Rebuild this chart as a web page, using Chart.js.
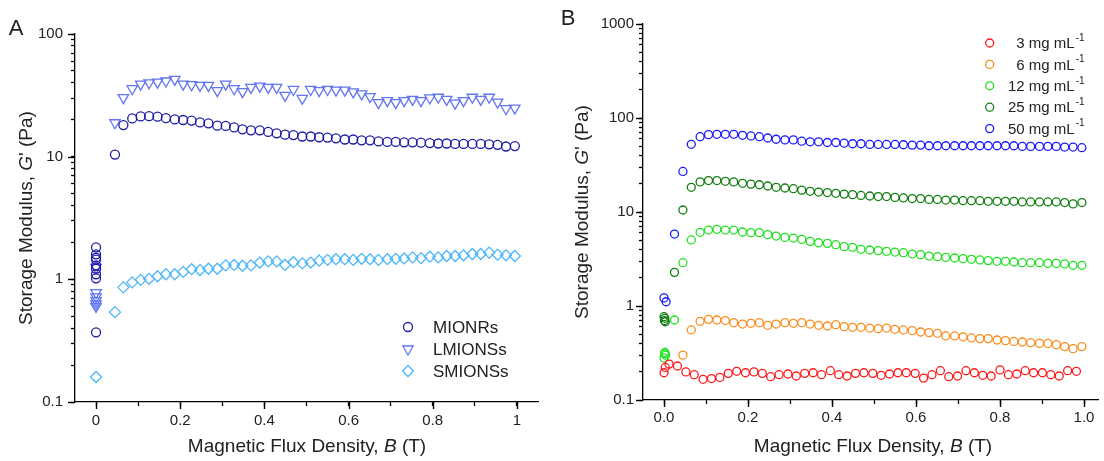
<!DOCTYPE html>
<html>
<head>
<meta charset="utf-8">
<script src="https://cdn.jsdelivr.net/npm/chart.js@4.4.1/dist/chart.umd.min.js"></script>
<style>
  body { margin: 0; background: #fff; font-family: "Liberation Sans", Arial, sans-serif; color: #222; }
  #wrap { position: relative; width: 1104px; height: 461px; overflow: hidden; }
  canvas { position: absolute; top: 0; }
  .title { position: absolute; white-space: nowrap; font-size: 19px; transform: translate(-50%, -50%); }
  .ytitle { transform: translate(-50%, -50%) rotate(-90deg); }
  .letter { position: absolute; font-size: 22px; transform: translate(-50%, -50%); }
</style>
</head>
<body>
<div id="wrap">
  <canvas id="chartA" width="552" height="461" style="left:0"></canvas>
  <canvas id="chartB" width="552" height="461" style="left:552px"></canvas>
  <div class="letter" style="left:16px; top:28px">A</div>
  <div class="letter" style="left:568px; top:18px">B</div>
  <div class="title ytitle" style="left:26px; top:218px">Storage Modulus, <i>G</i>' (Pa)</div>
  <div class="title" style="left:307px; top:446px">Magnetic Flux Density, <i>B</i> (T)</div>
  <div class="title ytitle" style="left:582px; top:212px">Storage Modulus, <i>G</i>' (Pa)</div>
  <div class="title" style="left:873px; top:446px">Magnetic Flux Density, <i>B</i> (T)</div>
</div>
<script>
// field sweep (T), shared by most series
const sweepField = [0.025, 0.045, 0.065, 0.086, 0.106, 0.126, 0.146, 0.166, 0.187, 0.207,
  0.227, 0.247, 0.267, 0.288, 0.308, 0.328, 0.348, 0.368, 0.389, 0.409,
  0.429, 0.449, 0.469, 0.490, 0.510, 0.530, 0.550, 0.570, 0.591, 0.611,
  0.631, 0.651, 0.671, 0.692, 0.712, 0.732, 0.752, 0.772, 0.793, 0.813,
  0.833, 0.853, 0.873, 0.894, 0.914, 0.934, 0.954, 0.974, 0.995];
// the 3 mg/mL run was sampled a bit earlier
const redField = [0.012, 0.032, 0.052, 0.072, 0.093, 0.113, 0.133, 0.153, 0.173, 0.194,
  0.214, 0.234, 0.254, 0.274, 0.295, 0.315, 0.335, 0.355, 0.375, 0.396,
  0.416, 0.436, 0.456, 0.476, 0.497, 0.517, 0.537, 0.557, 0.577, 0.598,
  0.618, 0.638, 0.658, 0.678, 0.699, 0.719, 0.739, 0.759, 0.779, 0.800,
  0.820, 0.840, 0.860, 0.880, 0.901, 0.921, 0.941, 0.961, 0.982];

// ---- panel A ----
const namesA = ['MIONRs', 'LMIONSs', 'SMIONSs'];
const mionrsZero = [1.82, 1.6, 1.5, 1.45, 1.3, 1.22, 1.1, 1.02, 0.37];
const lmionssZero = [1.25, 0.78, 0.72, 0.67, 0.63, 0.60];
const smionssZero = [0.16];
const mionrs = [10.4, 18.1, 20.5, 21.3, 21.4, 21.2, 20.6, 20.1, 19.9, 19.7,
  19.0, 18.7, 17.9, 17.8, 17.3, 16.7, 16.4, 16.4, 15.9, 15.5,
  15.1, 15.0, 14.6, 14.6, 14.4, 14.3, 14.1, 13.8, 13.8, 13.6,
  13.6, 13.3, 13.2, 13.2, 13.1, 13.1, 13.0, 12.9, 12.8, 12.8,
  12.7, 12.7, 12.7, 12.7, 12.6, 12.5, 12.1, 12.2];
const lmionss = [18.9, 30.3, 35.8, 39.0, 40.0, 40.5, 41.4, 42.7, 39.0, 38.6,
  38.1, 38.1, 34.5, 39.0, 35.8, 33.9, 36.7, 37.6, 36.7, 36.7,
  31.6, 35.3, 29.9, 35.3, 34.5, 35.3, 34.9, 34.9, 33.7, 32.5,
  30.9, 27.6, 28.6, 27.6, 28.6, 29.3, 28.6, 30.1, 30.5, 29.3,
  27.3, 28.6, 30.5, 29.3, 30.5, 27.8, 24.6, 24.9];
const smionss = [0.54, 0.86, 0.945, 0.99, 1.01, 1.06, 1.10, 1.10, 1.15, 1.21,
  1.19, 1.22, 1.22, 1.30, 1.31, 1.29, 1.30, 1.37, 1.40, 1.40,
  1.31, 1.38, 1.35, 1.37, 1.42, 1.44, 1.46, 1.46, 1.44, 1.47,
  1.46, 1.44, 1.46, 1.47, 1.48, 1.51, 1.49, 1.53, 1.51, 1.55,
  1.55, 1.57, 1.61, 1.61, 1.65, 1.59, 1.57, 1.55];
const xTicksA = ['0', '0.2', '0.4', '0.6', '0.8', '1'];
const yTicksA = ['0.1', '1', '10', '100'];

// ---- panel B ----
const concB = ['3', '6', '12', '25', '50'];
const c3ZeroX = [0, 0.003], c3Zero = [0.195, 0.222];
const c12ZeroX = [0, 0.001, 0.002, 0.004], c12Zero = [0.28, 0.31, 0.32, 0.30];
const c25ZeroX = [0, 0.001, 0.002, 0.003], c25Zero = [0.77, 0.70, 0.74, 0.68];
const c50ZeroX = [0, 0.005], c50Zero = [1.22, 1.11];
const c3 = [0.241, 0.230, 0.199, 0.186, 0.166, 0.169, 0.174, 0.192, 0.202, 0.195,
  0.199, 0.192, 0.177, 0.186, 0.189, 0.180, 0.192, 0.195, 0.186, 0.205,
  0.186, 0.180, 0.192, 0.195, 0.192, 0.183, 0.189, 0.195, 0.195, 0.192,
  0.171, 0.186, 0.205, 0.177, 0.180, 0.205, 0.195, 0.183, 0.180, 0.209,
  0.186, 0.189, 0.205, 0.195, 0.195, 0.186, 0.180, 0.205, 0.202];
const c6 = [0.30, 0.556, 0.687, 0.721, 0.71, 0.70, 0.665, 0.643, 0.654, 0.665,
  0.623, 0.643, 0.665, 0.654, 0.665, 0.643, 0.623, 0.613, 0.633, 0.603,
  0.593, 0.593, 0.583, 0.574, 0.583, 0.565, 0.556, 0.547, 0.529, 0.521,
  0.512, 0.48, 0.48, 0.47, 0.457, 0.45, 0.45, 0.435, 0.428, 0.42,
  0.414, 0.407, 0.40, 0.40, 0.388, 0.37, 0.352, 0.37];
const c12 = [0.71, 2.89, 5.04, 6.08, 6.43, 6.54, 6.43, 6.43, 6.13, 6.03,
  6.03, 5.74, 5.55, 5.37, 5.28, 5.11, 4.87, 4.71, 4.64, 4.49,
  4.28, 4.21, 4.01, 3.94, 3.88, 3.82, 3.75, 3.69, 3.57, 3.52,
  3.40, 3.35, 3.29, 3.24, 3.19, 3.14, 3.09, 3.04, 2.99, 2.99,
  2.94, 2.89, 2.89, 2.89, 2.84, 2.84, 2.80, 2.71, 2.71];
const c25 = [2.28, 10.5, 18.3, 20.9, 21.6, 21.6, 21.2, 20.9, 20.2, 19.8,
  19.5, 18.9, 18.3, 18.0, 17.7, 17.1, 16.6, 16.3, 16.1, 15.8,
  15.5, 15.3, 15.0, 14.8, 14.6, 14.6, 14.3, 14.1, 13.9, 13.9,
  13.6, 13.6, 13.4, 13.4, 13.2, 13.2, 13.2, 13.0, 13.0, 13.0,
  13.0, 12.8, 12.8, 12.8, 12.8, 12.8, 12.6, 12.2, 12.6];
const c50 = [5.83, 27.0, 52.5, 63.3, 66.5, 67.1, 67.1, 67.1, 65.4, 64.4,
  63.3, 61.3, 59.4, 58.5, 58.5, 56.7, 55.8, 55.8, 54.9, 54.9,
  54.0, 53.2, 53.2, 52.3, 52.3, 52.3, 52.3, 51.9, 51.5, 51.5,
  50.7, 50.7, 50.7, 50.7, 50.7, 50.7, 50.7, 50.7, 50.7, 50.7,
  50.7, 49.9, 49.9, 49.9, 49.9, 49.9, 49.1, 49.1, 48.3];
const xTicksB = ['0.0', '0.2', '0.4', '0.6', '0.8', '1.0'];
const yTicksB = ['0.1', '1', '10', '100', '1000'];

const FONT = '"Liberation Sans", Arial, sans-serif';
const TEXT = '#222';

function pts(xs, ys) {
  return ys.map((y, i) => ({ x: xs[i], y: y }));
}
function zeros(ys) {
  return ys.map(y => ({ x: 0, y: y }));
}

function isDecade(v) {
  const l = Math.log10(v);
  return Math.abs(l - Math.round(l)) < 1e-6;
}
function isEvenTenth(v) {
  const k = v * 5;
  return Math.abs(k - Math.round(k)) < 1e-6;
}

// library draws short ticks everywhere; this lengthens the labelled ones
const majorTicks = {
  id: 'majorTicks',
  afterDraw(chart) {
    const ctx = chart.ctx;
    const sx = chart.scales.x, sy = chart.scales.y;
    ctx.save();
    ctx.strokeStyle = '#000';
    ctx.lineWidth = 1.4;
    sx.ticks.forEach(t => {
      if (!isEvenTenth(t.value)) return;
      const px = Math.round(sx.getPixelForValue(t.value)) + 0.5;
      ctx.beginPath(); ctx.moveTo(px, sx.top); ctx.lineTo(px, sx.top + 7); ctx.stroke();
    });
    sy.ticks.forEach(t => {
      if (!isDecade(t.value)) return;
      const py = Math.round(sy.getPixelForValue(t.value)) + 0.5;
      ctx.beginPath(); ctx.moveTo(sy.right - 7, py); ctx.lineTo(sy.right, py); ctx.stroke();
    });
    ctx.restore();
  }
};

function logTicks(lo, hi) {
  const out = [];
  for (let e = lo; e < hi; e++) {
    for (let m = 1; m <= 9; m++) out.push({ value: Number((m * Math.pow(10, e)).toPrecision(6)) });
  }
  out.push({ value: Math.pow(10, hi) });
  return out;
}

const tickGrid = { display: true, drawOnChartArea: false, drawTicks: true, tickLength: 4, tickWidth: 1.3, tickColor: '#000' };

function makeOptions(o) {
  return {
    animation: false,
    responsive: false,
    layout: { padding: { top: o.top, right: o.right, bottom: 0, left: 0 } },
    plugins: { legend: { display: false }, tooltip: { enabled: false } },
    scales: {
      x: {
        type: 'linear', min: -0.05, max: o.xMax,
        grid: tickGrid,
        border: { display: true, color: '#000', width: 1.3 },
        afterBuildTicks: s => {
          s.ticks = [0, 0.1, 0.2, 0.3, 0.4, 0.5, 0.6, 0.7, 0.8, 0.9, 1.0].map(v => ({ value: v }));
        },
        afterFit: s => { s.height = o.xHeight; s.paddingLeft = 0; s.paddingRight = 0; },
        ticks: {
          autoSkip: false, maxRotation: 0, padding: o.xPad, color: TEXT,
          font: { family: FONT, size: 15 },
          callback: v => isEvenTenth(v) ? o.xLabels[Math.round(v * 5)] : ''
        }
      },
      y: {
        type: 'logarithmic', min: 0.1, max: Math.pow(10, o.yLabels.length - 2),
        grid: tickGrid,
        border: { display: true, color: '#000', width: 1.3 },
        afterBuildTicks: s => { s.ticks = logTicks(-1, o.yLabels.length - 2); },
        afterFit: s => { s.width = o.yWidth; s.paddingTop = 0; s.paddingBottom = 0; },
        ticks: {
          autoSkip: false, padding: o.yPad, color: TEXT,
          font: { family: FONT, size: 15 },
          callback: v => isDecade(v) ? o.yLabels[Math.round(Math.log10(v)) + 1] : ''
        }
      }
    }
  };
}

function marker(ds) {
  return {
    pointStyle: ds.pointStyle, radius: ds.pointRadius,
    rotation: ds.pointRotation || 0, borderWidth: ds.borderWidth
  };
}

const legendA = {
  id: 'legendA',
  afterDraw(chart) {
    const ctx = chart.ctx, area = chart.chartArea;
    ctx.save();
    chart.data.datasets.forEach((ds, i) => {
      const x = area.right - 130, y = area.bottom - 75 + i * 22;
      ctx.strokeStyle = ds.borderColor; ctx.fillStyle = 'rgba(0,0,0,0)'; ctx.lineWidth = ds.borderWidth;
      Chart.helpers.drawPoint(ctx, marker(ds), x, y);
      ctx.fillStyle = TEXT; ctx.font = '17px ' + FONT; ctx.textBaseline = 'middle'; ctx.textAlign = 'left';
      ctx.fillText(ds.label, x + 25, y + 1);
    });
    ctx.restore();
  }
};

const legendB = {
  id: 'legendB',
  afterDraw(chart) {
    const ctx = chart.ctx, area = chart.chartArea;
    ctx.save();
    chart.data.datasets.forEach((ds, i) => {
      const x = area.right - 109, y = 43 + i * 21.4;
      ctx.strokeStyle = ds.borderColor; ctx.fillStyle = 'rgba(0,0,0,0)'; ctx.lineWidth = ds.borderWidth;
      Chart.helpers.drawPoint(ctx, marker(ds), x, y);
      ctx.fillStyle = TEXT; ctx.textBaseline = 'middle';
      ctx.font = '15px ' + FONT; ctx.textAlign = 'right';
      ctx.fillText(ds.label + ' mg mL', area.right - 24, y + 1);
      ctx.font = '10px ' + FONT; ctx.textAlign = 'left';
      ctx.fillText('-1', area.right - 23, y - 5);
    });
    ctx.restore();
  }
};

function series(label, color, data, style, radius, rot) {
  return {
    label: label, data: data, showLine: false,
    pointStyle: style, pointRadius: radius, pointRotation: rot || 0,
    borderColor: color, backgroundColor: 'rgba(0,0,0,0)', borderWidth: 1.3
  };
}

new Chart(document.getElementById('chartA'), {
  type: 'scatter',
  data: {
    datasets: [
      series(namesA[0], '#1c1ca6', zeros(mionrsZero).concat(pts(sweepField.slice(1), mionrs)), 'circle', 4.5),
      series(namesA[1], '#6275f2', zeros(lmionssZero).concat(pts(sweepField.slice(1), lmionss)), 'triangle', 6, 180),
      series(namesA[2], '#4cb6fb', zeros(smionssZero).concat(pts(sweepField.slice(1), smionss)), 'rectRot', 5.5)
    ]
  },
  options: makeOptions({ top: 34, right: 14, xMax: 1.05, xHeight: 59, yWidth: 75,
    xPad: 6, yPad: 8, xLabels: xTicksA, yLabels: yTicksA }),
  plugins: [majorTicks, legendA]
});

new Chart(document.getElementById('chartB'), {
  type: 'scatter',
  data: {
    datasets: [
      series(concB[0], '#ff1a1a', pts(c3ZeroX, c3Zero).concat(pts(redField, c3)), 'circle', 4),
      series(concB[1], '#fb8c1e', pts(sweepField.slice(1), c6), 'circle', 4),
      series(concB[2], '#22e022', pts(c12ZeroX, c12Zero).concat(pts(sweepField, c12)), 'circle', 4),
      series(concB[3], '#0f7d0f', pts(c25ZeroX, c25Zero).concat(pts(sweepField, c25)), 'circle', 4),
      series(concB[4], '#1a1aff', pts(c50ZeroX, c50Zero).concat(pts(sweepField, c50)), 'circle', 4)
    ]
  },
  options: makeOptions({ top: 24, right: 0, xMax: 1.035, xHeight: 61, yWidth: 91,
    xPad: 5, yPad: 5, xLabels: xTicksB, yLabels: yTicksB }),
  plugins: [majorTicks, legendB]
});
</script>
</body>
</html>
